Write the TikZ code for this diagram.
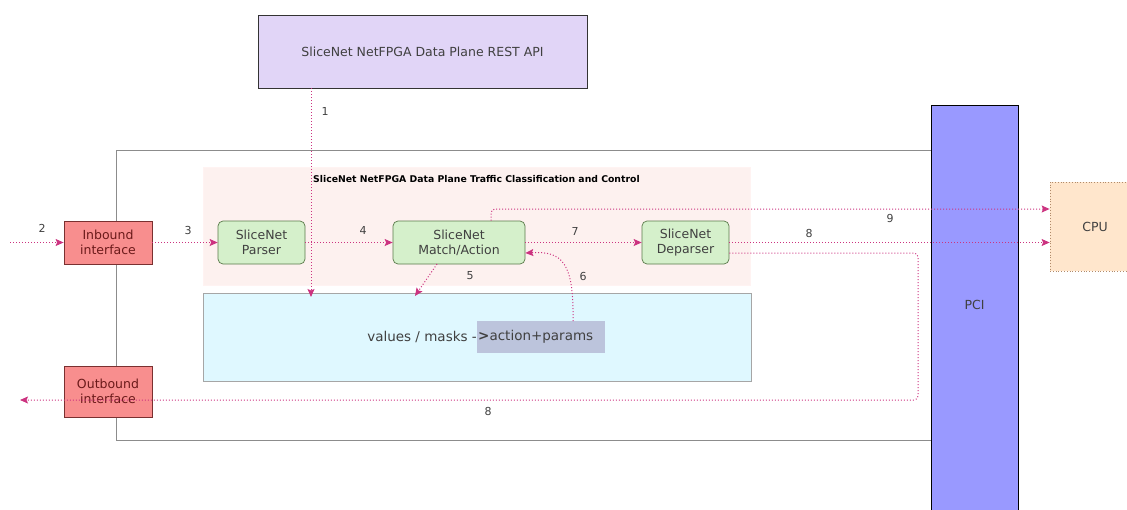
\documentclass[tikz,border=0pt]{standalone}
\usepackage{fontspec}
\setmainfont{DejaVu Sans}
\usetikzlibrary{arrows.meta}
\definecolor{arrc}{HTML}{CC3380}
\definecolor{restfill}{HTML}{E1D5F7}
\definecolor{pcifill}{HTML}{9999FF}
\definecolor{pinkreg}{HTML}{FDF1EF}
\definecolor{bluereg}{HTML}{DFF8FF}
\definecolor{hlfill}{HTML}{BCC4DC}
\definecolor{iffill}{HTML}{F88E8E}
\definecolor{ifdraw}{HTML}{7A3030}
\definecolor{iftext}{HTML}{6B1A1A}
\definecolor{grfill}{HTML}{D5F0CB}
\definecolor{grdraw}{HTML}{5A7A4A}
\definecolor{cpufill}{HTML}{FFE6CC}
\definecolor{cpudraw}{HTML}{B08A6A}
\definecolor{txt}{HTML}{404040}
\tikzset{
  box/.style={inner sep=0pt, align=center, font=\fontsize{12.5}{15}\selectfont, text=txt},
  ifbox/.style={box, fill=iffill, draw=ifdraw, line width=0.8pt, text=iftext},
  grbox/.style={box, fill=grfill, draw=grdraw, line width=0.7pt, rounded corners=5pt},
  arr/.style={arrc, dotted, line width=1pt, -{Stealth[length=8pt,width=7pt,inset=1.5pt]}},
  lbl/.style={font=\fontsize{11}{13}\selectfont, text=txt}
}
\begin{document}
\begin{tikzpicture}[x=1pt,y=-1pt]
\useasboundingbox (0,0) rectangle (1127,509);
% outer box
\node[draw=black!45, line width=0.8pt, minimum width=817pt, minimum height=290pt, inner sep=0pt] (outer) at (524.5,295) {};
% pink region
\node[fill=pinkreg, draw=pinkreg!80!red!20, minimum width=547pt, minimum height=118pt, inner sep=0pt] (pink) at (476.5,226) {};
\node[anchor=west, inner sep=0pt, font=\fontsize{9.3}{11}\selectfont\bfseries] (title) at (313,179) {SliceNet NetFPGA Data Plane Traffic Classification and Control};
% blue region
\node[fill=bluereg, draw=black!35, line width=0.8pt, minimum width=548pt, minimum height=88pt, inner sep=0pt] (blue) at (477,337) {};
\node[box, anchor=west, fill=hlfill, inner xsep=1pt, text width=126pt, align=left, minimum height=32pt, font=\fontsize{13.5}{16}\selectfont] (hl) at (477,337) {\textbf{>}action+params};
\node[box, anchor=east, font=\fontsize{13.5}{16}\selectfont] (vals) at (hl.west) {values / masks -};
% REST API
\node[box, fill=restfill, draw=black!80, line width=0.8pt, minimum width=329pt, minimum height=73pt] (rest) at (422.5,51.5) {SliceNet NetFPGA Data Plane REST API};
% PCI
\node[box, fill=pcifill, draw=black, line width=0.8pt, minimum width=87pt, minimum height=420pt] (pci) at (974.5,315) {};
\node[box] (pcit) at (974.5,305) {PCI};
% CPU
\node[box, fill=cpufill, draw=cpudraw, dotted, line width=0.8pt, minimum width=90pt, minimum height=89pt] (cpu) at (1095,226.5) {CPU};
% interfaces
\node[ifbox, minimum width=88pt, minimum height=43pt] (inb) at (108,242.5) {Inbound\\interface};
\node[ifbox, minimum width=88pt, minimum height=51pt] (outb) at (108,391.5) {Outbound\\interface};
% blocks
\node[grbox, minimum width=87pt, minimum height=43pt] (parser) at (261.5,242.5) {SliceNet\\Parser};
\node[grbox, minimum width=132pt, minimum height=43pt] (ma) at (459,242.5) {SliceNet\\Match/Action};
\node[grbox, minimum width=87pt, minimum height=43pt] (dep) at (685.5,242.5) {SliceNet\\Deparser};
% coordinates
\coordinate (c1) at (311,297);
\coordinate (c2) at (10,242.5);
\coordinate (c5s) at (437,264);
\coordinate (c5e) at (415,296);
\coordinate (c6s) at (573,321);
\coordinate (c9) at (491,209);
\coordinate (c8a) at (918,253);
\coordinate (c8b) at (918,400);
\coordinate (c8e) at (20,400);
% arrows
\draw[arr] (rest.south -| c1) -- (c1);
\draw[arr] (c2) -- (inb.west);
\draw[arr] (inb.east) -- (parser.west);
\draw[arr] (parser.east) -- (ma.west);
\draw[arr] (c5s) -- (c5e);
\draw[arr] (c6s) .. controls (574,262) and (562,251) .. (ma.east |- 0,253);
\draw[arr] (ma.east) -- (dep.west);
\draw[arr] (dep.east) -- (cpu.west |- dep.east);
\draw[arr, rounded corners=4pt] (c9 |- ma.north) -- (c9) -- (cpu.west |- c9);
\draw[arr, rounded corners=4pt] (dep.east |- c8a) -- (c8a) -- (c8b) -- (c8e);
% labels
\node[lbl] (l1) at (325,111) {1};
\node[lbl] (l2) at (42,228) {2};
\node[lbl] (l3) at (188,230) {3};
\node[lbl] (l4) at (363,230) {4};
\node[lbl] (l5) at (470,276) {5};
\node[lbl] (l6) at (583,276) {6};
\node[lbl] (l7) at (575,231) {7};
\node[lbl] (l8) at (809,233) {8};
\node[lbl] (l9) at (890,218) {9};
\node[lbl] (l8b) at (488,411) {8};
\end{tikzpicture}
\end{document}
